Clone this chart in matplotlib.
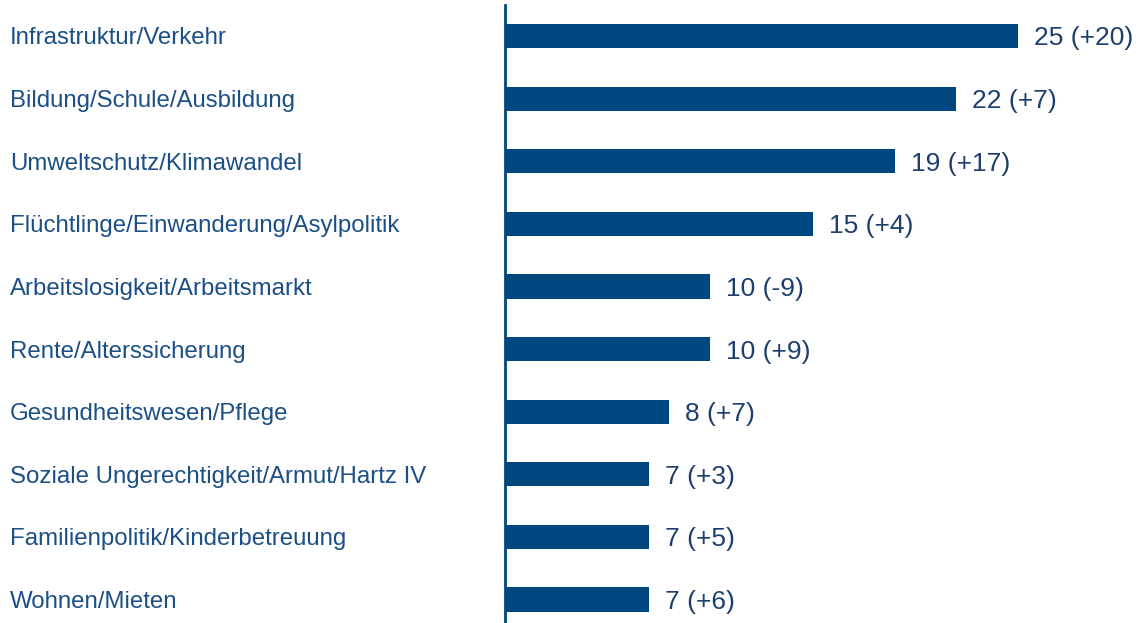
import matplotlib.pyplot as plt
import matplotlib.transforms as mtransforms

categories = [
    'Infrastruktur/Verkehr',
    'Bildung/Schule/Ausbildung',
    'Umweltschutz/Klimawandel',
    'Flüchtlinge/Einwanderung/Asylpolitik',
    'Arbeitslosigkeit/Arbeitsmarkt',
    'Rente/Alterssicherung',
    'Gesundheitswesen/Pflege',
    'Soziale Ungerechtigkeit/Armut/Hartz IV',
    'Familienpolitik/Kinderbetreuung',
    'Wohnen/Mieten',
]
values = [25, 22, 19, 15, 10, 10, 8, 7, 7, 7]
changes = ['+20', '+7', '+17', '+4', '-9', '+9', '+7', '+3', '+5', '+6']

bar_color = '#00477f'
text_color = '#1b4f85'
value_color = '#1d3f6e'

plt.rcParams['font.family'] = ['Liberation Sans', 'DejaVu Sans']

fig = plt.figure(figsize=(11.4, 6.23), dpi=100)
ax = fig.add_axes([505 / 1140, 0, 1 - 505 / 1140, 618 / 623])

y = list(range(len(categories)))
ax.barh(y, values, height=0.385, color=bar_color)
ax.set_xlim(0, 635 / 20.52)
ax.set_ylim(9.375, -0.495)

for s in ['top', 'right', 'bottom']:
    ax.spines[s].set_visible(False)
ax.spines['left'].set_color(bar_color)
ax.spines['left'].set_linewidth(2)
ax.set_xticks([])
ax.set_yticks([])

# category labels at the left edge of the figure
trans = mtransforms.blended_transform_factory(fig.transFigure, ax.transData)
for i, cat in enumerate(categories):
    ax.text(10 / 1140, i, cat, transform=trans, ha='left', va='center_baseline',
            fontsize=17.3, color=text_color)

for i, (v, c) in enumerate(zip(values, changes)):
    ax.annotate(f'{v} ({c})', xy=(v, i), xytext=(11.5, 0), textcoords='offset points',
                ha='left', va='center_baseline', fontsize=19, color=value_color)

fig.savefig('out.png', dpi=100)
